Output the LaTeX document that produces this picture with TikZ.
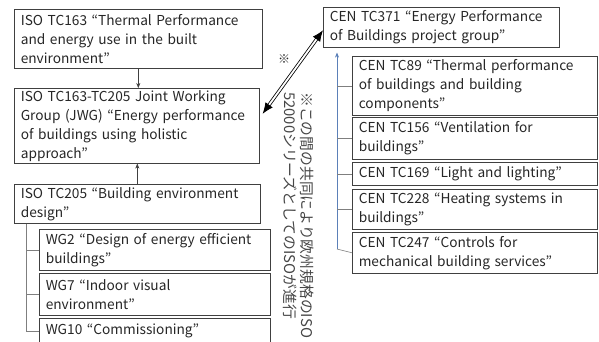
\documentclass[tikz,border=0pt]{standalone}
\usepackage{fontspec}
\setmainfont{Noto Sans CJK JP}
\usetikzlibrary{positioning, arrows.meta}

\definecolor{boxline}{HTML}{404040}
\definecolor{textgray}{HTML}{262626}
\definecolor{treegray}{HTML}{7F7F7F}
\definecolor{cenblue}{HTML}{5B80B8}

\tikzset{
    box/.style = {draw = boxline, line width = 0.6pt, anchor = north west, align = left,
                  inner xsep = 6.5pt, inner ysep = 0pt, text = textgray,
                  font = \fontsize{13.7}{19}\selectfont},
    tree/.style = {draw = treegray, line width = 0.6pt}
}

\begin{document}
\begin{tikzpicture}[x = 1pt, y = -1pt, >={Stealth[length = 5pt, width = 4pt]}]
                    \useasboundingbox (0, 0) rectangle (599, 341);
                    \clip (0, 0) rectangle (599, 341);

                    % ISO side
                    \node [box, text width = 235pt, minimum height = 59pt] (iso163) at (14, 9) {ISO TC163 “Thermal Performance\\and energy use in the built\\environment”};
                    \node [box, text width = 232pt, minimum height = 75pt] (jwg) at (14, 88) {ISO TC163-TC205 Joint Working\\Group (JWG) “Energy performance\\of buildings using holistic\\approach”};
                    \node [box, text width = 233pt, minimum height = 39pt] (iso205) at (14, 184) {ISO TC205 “Building environment\\design”};
                    \node [box, text width = 218pt, minimum height = 41pt] (wg2) at (39, 229) {WG2 “Design of energy efficient\\buildings”};
                    \node [box, text width = 218pt, minimum height = 42pt] (wg7) at (39, 273) {WG7 “Indoor visual\\environment”};
                    \node [box, text width = 218pt, minimum height = 25pt] (wg10) at (39, 318) {WG10 “Commissioning”};

                    % CEN side
                    \node [box, text width = 223pt, minimum height = 40pt] (cen371) at (323, 7) {CEN TC371 “Energy Performance\\of Buildings project group”};
                    \node [box, text width = 232pt, minimum height = 59pt] (tc89) at (352, 56) {CEN TC89 “Thermal performance\\of buildings and building\\components”};
                    \node [box, text width = 232pt, minimum height = 42pt] (tc156) at (352, 117) {CEN TC156 “Ventilation for\\buildings”};
                    \node [box, text width = 232pt, minimum height = 23pt] (tc169) at (352, 162) {CEN TC169 “Light and lighting”};
                    \node [box, text width = 232pt, minimum height = 40pt] (tc228) at (352, 189) {CEN TC228 “Heating systems in\\buildings”};
                    \node [box, text width = 232pt, minimum height = 41pt] (tc247) at (352, 232) {CEN TC247 “Controls for\\mechanical building services”};

                    \node [text = textgray, font = \fontsize{12}{12}\selectfont] (mark) at (284, 59) {※};
                    \node [rotate = -90, anchor = north west, align = left, inner sep = 0pt, text = textgray!85,
                           font = \fontsize{14.8}{17}\selectfont] (note) at (314, 92) {※この間の共同により欧州規格のISO\\52000シリーズとしてのISOが進行};

                    \draw [->, boxline] (iso163.south) -- (iso163.south |- jwg.north);
                    \draw [->, boxline] (iso205.north) -- (iso205.north |- jwg.south);

                    \coordinate (isotrunk) at ([xshift = 12pt] iso205.south west);
                    \draw [tree] (isotrunk) |- (wg10.west);
                    \draw [tree] (wg2.west -| isotrunk) -- (wg2.west);
                    \draw [tree] (wg7.west -| isotrunk) -- (wg7.west);

                    \coordinate (centrunk) at (337, 249);
                    \draw [->, cenblue, line width = 0.6pt, shorten > = 5pt] (centrunk) -- (centrunk |- cen371.south);
                    \draw [tree] (centrunk) -- (tc247.west);
                    \draw [tree] (tc89.west -| centrunk) -- (tc89.west);
                    \draw [tree] (tc156.west -| centrunk) -- (tc156.west);
                    \draw [tree] (tc169.west -| centrunk) -- (tc169.west);
                    \draw [tree] (tc228.west -| centrunk) -- (tc228.west);

                    \draw [{Latex[length = 11pt, width = 9pt]}-{Latex[length = 11pt, width = 9pt]}, black, line width = 0.8pt,
                           double = white, double distance = 1.8pt] ([xshift = 3pt, yshift = 12pt] jwg.east) -- ([yshift = -3pt] cen371.west);
                \end{tikzpicture}
\end{document}
